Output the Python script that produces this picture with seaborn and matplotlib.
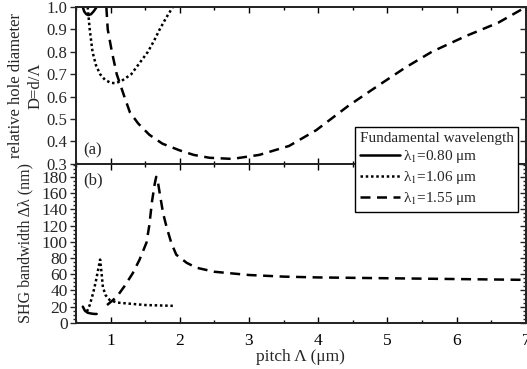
import matplotlib
matplotlib.use('Agg')
import matplotlib.pyplot as plt
import seaborn as sns
import pandas as pd
from matplotlib.lines import Line2D
from matplotlib.ticker import MultipleLocator

# (a) relative hole diameter D = d/pitch vs pitch
pitch_d_080 = [0.60, 0.62, 0.65, 0.68, 0.72, 0.76, 0.80]
d_080 = [1.0, 0.98, 0.968, 0.964, 0.968, 0.982, 1.0]

pitch_d_106 = [0.67, 0.70, 0.74, 0.79, 0.85, 0.92, 1.00, 1.06, 1.15, 1.30, 1.42, 1.54, 1.63, 1.71, 1.80, 1.90]
d_106 = [1.0, 0.90, 0.80, 0.74, 0.70, 0.675, 0.662, 0.66, 0.668, 0.70, 0.75, 0.80, 0.85, 0.90, 0.95, 1.0]

pitch_d_155 = [0.94, 0.96, 1.02, 1.09, 1.20, 1.28, 1.40, 1.56, 1.75, 2.00, 2.20, 2.43, 2.76,
               3.15, 3.58, 3.97, 4.44, 4.87, 5.26, 5.64, 6.13, 6.60, 7.00]
d_155 = [1.0, 0.90, 0.80, 0.70, 0.60, 0.53, 0.48, 0.43, 0.39, 0.36, 0.34, 0.327, 0.322,
         0.34, 0.38, 0.45, 0.56, 0.65, 0.73, 0.80, 0.87, 0.93, 1.0]

# (b) SHG bandwidth vs pitch
pitch_b_080 = [0.60, 0.63, 0.67, 0.72, 0.77, 0.80]
bw_080 = [20, 15, 12.5, 11.5, 11, 11]

pitch_b_106 = [0.66, 0.70, 0.75, 0.79, 0.82, 0.85, 0.87, 0.89, 0.93, 0.99, 1.10, 1.23, 1.50, 1.90]
bw_106 = [14, 22, 37, 52, 65, 78, 62, 44, 34, 28, 25, 24, 22, 21]

pitch_b_155 = [0.95, 1.09, 1.20, 1.32, 1.42, 1.52, 1.56, 1.60, 1.64, 1.66, 1.68, 1.72, 1.76, 1.81,
               1.88, 1.95, 2.10, 2.24, 2.50, 3.00, 3.50, 4.00, 5.00, 6.00, 7.00]
bw_155 = [22, 32, 45, 61, 78, 99, 120, 150, 172, 180, 176, 155, 135, 118,
          98, 84, 74, 68, 63, 59, 57, 56, 55, 54, 53]

labels = ['λ$_1$=0.80 μm', 'λ$_1$=1.06 μm', 'λ$_1$=1.55 μm']

sns.set_theme(style='ticks')
plt.rcParams['font.family'] = ['Liberation Serif', 'DejaVu Serif']
plt.rcParams['mathtext.fontset'] = 'stix'
plt.rcParams['font.size'] = 12

styles = ['-', (0, (1, 1.1)), (0, (4, 2.6))]
lw = 1.8

fig = plt.figure(figsize=(5.27, 3.69), dpi=100)
ax_top = fig.add_axes([0.144, 0.556, 0.854, 0.425])
ax_bot = fig.add_axes([0.144, 0.125, 0.854, 0.431])

top_sets = [(pitch_d_080, d_080), (pitch_d_106, d_106), (pitch_d_155, d_155)]
bot_sets = [(pitch_b_080, bw_080), (pitch_b_106, bw_106), (pitch_b_155, bw_155)]

for (x, y), ls in zip(top_sets, styles):
    df = pd.DataFrame({'pitch': x, 'val': y})
    sns.lineplot(data=df, x='pitch', y='val', ax=ax_top, color='black', lw=lw,
                 linestyle=ls, sort=False, estimator=None)
for (x, y), ls in zip(bot_sets, styles):
    df = pd.DataFrame({'pitch': x, 'val': y})
    sns.lineplot(data=df, x='pitch', y='val', ax=ax_bot, color='black', lw=lw,
                 linestyle=ls, sort=False, estimator=None)

ax_top.set_xlim(0.5, 7)
ax_top.set_ylim(0.3, 1.0)
ax_bot.set_xlim(0.5, 7)
ax_bot.set_ylim(0, 196)

ax_top.yaxis.set_major_locator(MultipleLocator(0.1))
ax_bot.yaxis.set_major_locator(MultipleLocator(20))
ax_bot.yaxis.set_minor_locator(MultipleLocator(5))
for ax in (ax_top, ax_bot):
    ax.xaxis.set_major_locator(MultipleLocator(1))
    ax.xaxis.set_minor_locator(MultipleLocator(0.5))
    ax.tick_params(axis='x', which='both', direction='in', top=True, bottom=True, colors='black')
    ax.tick_params(axis='x', which='major', length=4, width=1, pad=7)
    ax.tick_params(axis='x', which='minor', length=2.5, width=1)
    ax.tick_params(axis='y', which='major', direction='out', length=4, width=1, pad=2)
    ax.tick_params(axis='y', which='minor', direction='out', length=2.5, width=1)
    ax.tick_params(labelsize=12.5)
    for s in ax.spines.values():
        s.set_linewidth(1.2)
        s.set_color('black')
    # inward ticks on the right side
    tw = ax.twinx()
    tw.set_ylim(ax.get_ylim())
    tw.yaxis.set_major_locator(ax.yaxis.get_major_locator())
    tw.yaxis.set_minor_locator(ax.yaxis.get_minor_locator())
    tw.tick_params(axis='y', which='both', direction='in', labelright=False)
    tw.tick_params(axis='y', which='major', length=4, width=1)
    tw.tick_params(axis='y', which='minor', length=2.5, width=1)

ax_top.set_yticks([0.3, 0.4, 0.5, 0.6, 0.7, 0.8, 0.9, 1.0])
ax_top.set_yticklabels(['0.3', '0.4', '0.5', '0.6', '0.7', '0.8', '0.9', '1.0'])
ax_top.tick_params(axis='y', labelsize=12)
ax_top.tick_params(axis='x', labelbottom=False)
ax_top.set_xlabel('')
ax_bot.set_xlabel('pitch Λ (μm)', fontsize=12.5, labelpad=0)

ax_top.set_ylabel('relative hole diameter\nD=d/Λ', fontsize=12, linespacing=1.25)
ax_bot.set_ylabel('SHG bandwidth Δλ (nm)', fontsize=11.5)
ax_top.yaxis.set_label_coords(-0.072, 0.5)
ax_bot.yaxis.set_label_coords(-0.094, 0.5)

ax_top.text(0.6, 0.36, '(a)', fontsize=12, va='center')
ax_bot.text(0.6, 176, '(b)', fontsize=12, va='center')

handles = [Line2D([], [], color='black', lw=lw, linestyle=ls) for ls in styles]
leg = fig.legend(handles, labels, title='Fundamental wavelength', loc='upper left',
                 bbox_to_anchor=(0.674, 0.656), borderaxespad=0, fontsize=11, title_fontsize=11,
                 frameon=True, fancybox=False, framealpha=1, edgecolor='black',
                 handlelength=2.6, handletextpad=0.25, labelspacing=0.25,
                 borderpad=0.3, alignment='left')
leg.get_frame().set_linewidth(1.0)

fig.savefig('out.png', dpi=100)
